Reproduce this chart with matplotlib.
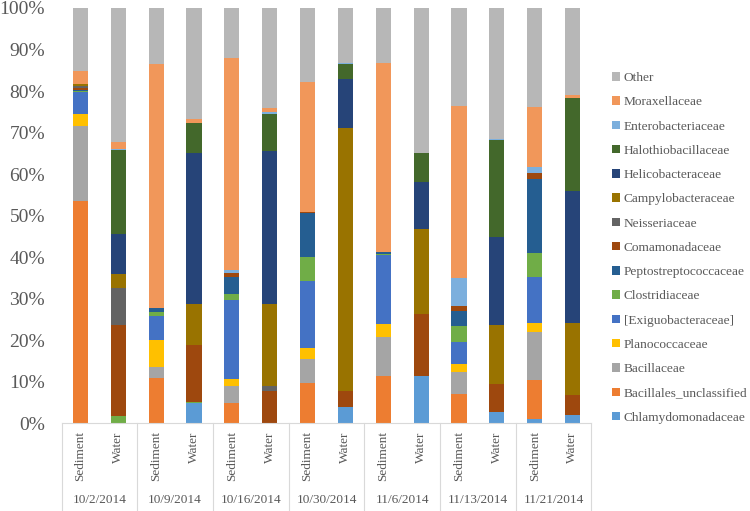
import matplotlib
matplotlib.use("Agg")
import matplotlib.pyplot as plt
import numpy as np

plt.rcParams['font.family'] = ['Liberation Serif', 'DejaVu Serif']

dates = ['10/2/2014', '10/9/2014', '10/16/2014', '10/30/2014', '11/6/2014', '11/13/2014', '11/21/2014']
samples = ['Sediment', 'Water'] * 7

# families, bottom of the stack first
families = ['Chlamydomonadaceae', 'Bacillales_unclassified', 'Bacillaceae', 'Planococcaceae',
            '[Exiguobacteraceae]', 'Clostridiaceae', 'Peptostreptococcaceae', 'Comamonadaceae',
            'Neisseriaceae', 'Campylobacteraceae', 'Helicobacteraceae', 'Halothiobacillaceae',
            'Enterobacteriaceae', 'Moraxellaceae', 'Other']

chlamydomonadaceae = [0, 0, 0, 4.7, 0, 0, 0, 3.9, 0, 11.3, 0, 2.7, 1.0, 2.0]
bacillales_uncl = [53.5, 0, 10.8, 0, 4.7, 0, 9.7, 0, 11.3, 0, 7.0, 0, 9.4, 0]
bacillaceae = [18.1, 0, 2.8, 0, 4.1, 0, 5.7, 0, 9.5, 0, 5.4, 0, 11.6, 0]
planococcaceae = [2.8, 0, 6.4, 0, 1.8, 0, 2.6, 0, 3.1, 0, 1.8, 0, 2.2, 0]
exiguobacteraceae = [5.3, 0, 5.9, 0, 19.0, 0, 16.1, 0, 16.6, 0, 5.2, 0, 10.9, 0]
clostridiaceae = [0.3, 1.8, 0.9, 0.4, 1.6, 0, 5.9, 0, 0.2, 0, 4.0, 0, 5.8, 0]
peptostreptococcaceae = [0.2, 0, 0.8, 0, 3.9, 0, 10.5, 0, 0.4, 0, 3.7, 0, 17.8, 0]
comamonadaceae = [0.6, 21.8, 0, 13.7, 1.0, 7.8, 0.4, 3.9, 0, 15.0, 1.2, 6.7, 1.5, 4.7]
neisseriaceae = [0.3, 9.0, 0, 0, 0, 1.0, 0, 0, 0, 0, 0, 0, 0, 0]
campylobacteraceae = [0.5, 3.3, 0, 9.8, 0, 19.9, 0, 63.4, 0, 20.4, 0, 14.1, 0, 17.3]
helicobacteraceae = [0, 9.6, 0, 36.4, 0, 36.8, 0, 11.7, 0, 11.3, 0, 21.2, 0, 32.0]
halothiobacillaceae = [0.2, 20.3, 0, 7.4, 0, 8.9, 0, 3.5, 0.2, 7.0, 0, 23.5, 0, 22.2]
enterobacteriaceae = [0, 0.2, 0, 0, 0.8, 0.5, 0, 0.3, 0, 0, 6.7, 0.3, 1.6, 0]
moraxellaceae = [2.9, 1.6, 58.8, 0.9, 51.1, 0.9, 31.3, 0, 45.5, 0, 41.4, 0, 14.3, 0.8]
other = [15.3, 32.4, 13.6, 26.7, 12.0, 24.2, 17.8, 13.3, 13.2, 35.0, 23.6, 31.5, 23.9, 21.0]

series = [chlamydomonadaceae, bacillales_uncl, bacillaceae, planococcaceae, exiguobacteraceae,
          clostridiaceae, peptostreptococcaceae, comamonadaceae, neisseriaceae, campylobacteraceae,
          helicobacteraceae, halothiobacillaceae, enterobacteriaceae, moraxellaceae, other]

colors = ['#5B9BD5', '#ED7D31', '#A5A5A5', '#FFC000', '#4472C4', '#70AD47', '#255E91', '#9E480E',
          '#636363', '#997300', '#264478', '#43682B', '#7CAFDD', '#F1975A', '#B7B7B7']

fig = plt.figure(figsize=(7.5, 5.11), dpi=100)
ax = fig.add_axes([61.6 / 750, 88 / 511, 529.8 / 750, 415 / 511])

x = np.arange(len(samples))
bottom = np.zeros(len(samples))
bars = []
for vals, col, name in zip(series, colors, families):
    b = ax.bar(x, vals, 0.4, bottom=bottom, color=col, linewidth=0, label=name)
    bars.append(b)
    bottom += np.array(vals)

ax.set_xlim(-0.5, len(samples) - 0.5)
ax.set_ylim(0, 100)
ax.set_yticks(np.arange(0, 101, 10))
ax.set_yticklabels([f'{v}%' for v in range(0, 101, 10)], fontsize=14, color='#595959')
ax.tick_params(axis='y', length=0, pad=12)
ax.set_xticks(x)
ax.set_xticklabels(samples, rotation=90, fontsize=9.5, color='#595959')
ax.tick_params(axis='x', length=0, pad=6)

for s in ['top', 'right', 'left']:
    ax.spines[s].set_visible(False)
ax.spines['bottom'].set_color('#D9D9D9')

trans = ax.get_xaxis_transform()
for k in range(len(dates) + 1):
    ax.plot([2 * k - 0.5, 2 * k - 0.5], [0, -0.215], transform=trans, color='#D9D9D9',
            linewidth=0.8, clip_on=False)
for k, d in enumerate(dates):
    ax.text(2 * k + 0.5, -0.186, d, transform=trans, ha='center', va='center',
            fontsize=9.5, color='#595959')

handles = bars[::-1]
labels = families[::-1]
fig.legend(handles, labels, loc='upper left', bbox_to_anchor=(612 / 750, 1 - 72 / 511),
           frameon=False, fontsize=9.6, labelspacing=0.92, handlelength=0.6, handleheight=0.6,
           handletextpad=0.3, borderpad=0, borderaxespad=0, labelcolor='#595959')

fig.savefig('out.png', dpi=100)
